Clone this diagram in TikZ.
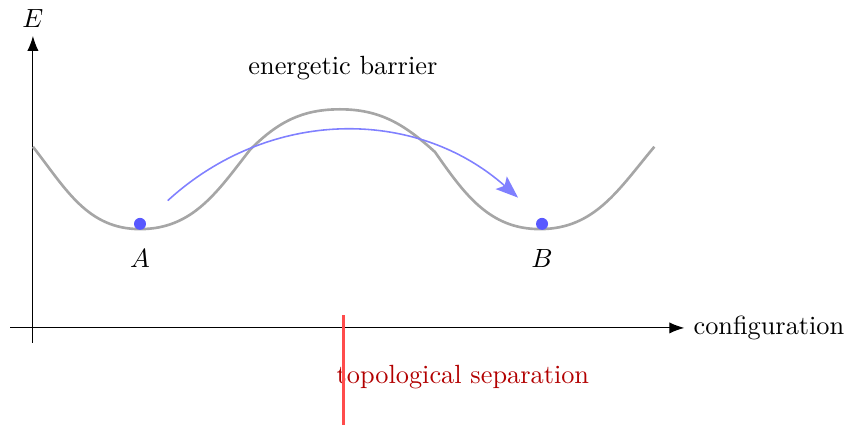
\documentclass[tikz,border=0pt]{standalone}
\usepackage{amsmath,amssymb}
\usepackage{xcolor}
\usetikzlibrary{arrows.meta,positioning}

\begin{document}
\begin{tikzpicture}[
  axis/.style={-{Latex[length=2mm]}},
  energy/.style={gray!70, line width=1pt},
  hop/.style={blue!50, semithick, -{Stealth[length=3mm, inset=0.6mm]}},
  state/.style={circle, fill=blue!65, inner sep=0pt, minimum size=0.16cm},
  cut/.style={red!70, line width=1.2pt},
  lab/.style={inner sep=1pt}
]
\useasboundingbox (-0.44,-1.3) rectangle (10.9,4.38);
% axes
\coordinate (o) at (0,0);
\coordinate (xs) at (-0.3,0);
\coordinate (xe) at (8.7,0);
\coordinate (ys) at (0,-0.2);
\coordinate (ye) at (0,3.9);
\draw[axis] (xs) -- (xe) node[right] (xl) {configuration};
\draw[axis] (ys) -- (ye) node[above=2pt, lab] (yl) {$E$};
% energy landscape
\coordinate (l) at (0,2.42);
\coordinate (ma) at (1.43,1.32);
\coordinate (k1) at (2.9,2.38);
\coordinate (top) at (4.1,2.92);
\coordinate (k2) at (5.37,2.35);
\coordinate (mb) at (6.77,1.32);
\coordinate (r) at (8.3,2.42);
\draw[energy] (l) to[out=-52, in=180] (ma) to[out=0, in=-128] (k1)
  to[out=45, in=180] (top) to[out=0, in=138] (k2)
  to[out=-55, in=180] (mb) to[out=0, in=-130] (r);
\node[state] (a) at (1.43,1.39) {};
\node[state] (b) at (6.8,1.39) {};
\node[below=0.22cm of a, lab] (al) {$A$};
\node[below=0.22cm of b, lab] (bl) {$B$};
\node[lab] (barrier) at (4.14,3.47) {energetic barrier};
% transition
\coordinate (hs) at (1.8,1.7);
\coordinate (he) at (6.48,1.74);
\draw[hop] (hs) to[bend left=42] (he);
% separation
\node[right, text=red!70!black, inner sep=0pt] (sep) at (4.05,-0.65) {topological separation};
\coordinate (cs) at (4.15,0.17);
\coordinate (ce) at (4.15,-1.3);
\draw[cut] (cs) -- (ce);
\end{tikzpicture}
\end{document}
